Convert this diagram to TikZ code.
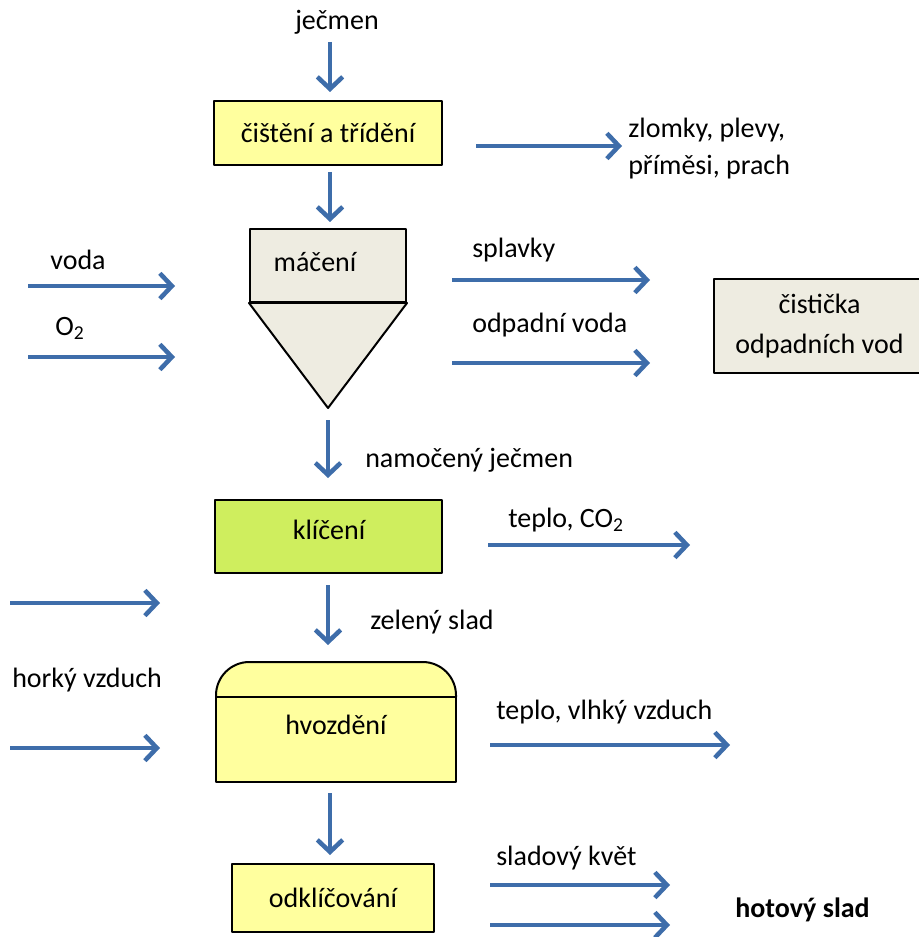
\documentclass[tikz,border=0pt]{standalone}
\usepackage{fontspec}
\setmainfont{Carlito}
\usetikzlibrary{arrows.meta}
\definecolor{flowblue}{HTML}{3E6DAA}
\definecolor{boxyellow}{HTML}{FFFF9E}
\definecolor{boxgrey}{HTML}{EEECE1}
\definecolor{boxgreen}{HTML}{CFEE5E}
\begin{document}
\begin{tikzpicture}[x=0.75pt, y=-0.75pt, font=\fontsize{21}{27.75}\selectfont, line join=round,
    flow/.style={draw=flowblue, line width=3.4pt, -{Straight Barb[length=9pt, width=19pt, line width=3.4pt]}},
    stagebox/.style={draw=black, line width=1.5pt, inner sep=0pt},
    label/.style={inner sep=0pt, anchor=west}]
  \useasboundingbox (0,0) rectangle (918,937);
  % process boxes
  \node[stagebox, fill=boxyellow, minimum width=171pt, minimum height=48pt] (cisteni) at (328,133) {čištění a třídění};
  \node[stagebox, fill=boxgrey, minimum width=117pt, minimum height=54.75pt] (maceni) at (328,265.5) {};
  \node[inner sep=0pt] at (315,262) {máčení};
  \coordinate (tip) at (328,408);
  \draw[line width=1.5pt, fill=boxgrey] (maceni.south west) -- (maceni.south east) -- (tip) -- cycle;
  \node[stagebox, fill=boxgrey, minimum width=158pt, minimum height=70.5pt, align=center,
        font=\fontsize{21}{30}\selectfont] (cisticka) at (819.5,326) {čistička\\odpadních vod};
  \node[stagebox, fill=boxgreen, minimum width=170pt, minimum height=55pt] (kliceni) at (328.5,536.5) {};
  \node[inner sep=0pt] at (329,530) {klíčení};
  \draw[line width=1.5pt, fill=boxyellow, rounded corners=25pt] (216,697) -- (216,662) -- (456,662) -- (456,697);
  \draw[line width=1.5pt, fill=boxyellow] (216,697) rectangle (456,782);
  \node[inner sep=0pt] (hvozdeni) at (336,725) {hvozdění};
  \node[stagebox, fill=boxyellow, minimum width=151.5pt, minimum height=51pt] (odkl) at (333,898) {odklíčování};
  % arrows
  \coordinate (in0) at (330,42);   \coordinate (in0e) at (330,92);
  \coordinate (d1) at (330,172);   \coordinate (d1e) at (330,222);
  \coordinate (o1) at (476,146);   \coordinate (o1e) at (622,146);
  \coordinate (vo) at (28,286);    \coordinate (voe) at (175,286);
  \coordinate (ox) at (28,357);    \coordinate (oxe) at (175,357);
  \coordinate (sp) at (452,280);   \coordinate (spe) at (650,280);
  \coordinate (ov) at (452,363);   \coordinate (ove) at (650,363);
  \coordinate (d2) at (328,420);   \coordinate (d2e) at (328,478);
  \coordinate (co) at (488,545);   \coordinate (coe) at (690,545);
  \coordinate (h1) at (10,603);    \coordinate (h1e) at (160,603);
  \coordinate (h2) at (10,748);    \coordinate (h2e) at (160,748);
  \coordinate (d3) at (328,585);   \coordinate (d3e) at (328,645);
  \coordinate (vv) at (490,745);   \coordinate (vve) at (730,745);
  \coordinate (d4) at (330,793);   \coordinate (d4e) at (330,855);
  \coordinate (sk) at (490,885);   \coordinate (ske) at (670,885);
  \coordinate (hs) at (490,925);   \coordinate (hse) at (670,925);
  \foreach \s/\e in {in0/in0e, d1/d1e, o1/o1e, vo/voe, ox/oxe, sp/spe, ov/ove, d2/d2e,
      co/coe, h1/h1e, h2/h2e, d3/d3e, vv/vve, d4/d4e, sk/ske, hs/hse}
    \draw[flow] (\s) -- (\e);
  % labels
  \node[inner sep=0pt] (jecmen) at (337,22) {ječmen};
  \node[label, align=left] (zlomky) at (628,149) {zlomky, plevy,\\příměsi, prach};
  \node[inner sep=0pt] (voda) at (78,260) {voda};
  \node[inner sep=0pt] (kyslik) at (70,328) {O\textsubscript{2}};
  \node[label] (splavky) at (472,250) {splavky};
  \node[label] (odpvoda) at (472,325) {odpadní voda};
  \node[label] (namoceny) at (365,460) {namočený ječmen};
  \node[label] (teplo) at (508,520) {teplo, CO\textsubscript{2}};
  \node[label] (zeleny) at (370,622) {zelený slad};
  \node[label] (horky) at (12,680) {horký vzduch};
  \node[label] (vlhky) at (496,712) {teplo, vlhký vzduch};
  \node[label] (kvet) at (496,858) {sladový květ};
  \node[label, font=\fontsize{21}{27.75}\selectfont\bfseries] (hotovy) at (735,910) {hotový slad};
\end{tikzpicture}
\end{document}
